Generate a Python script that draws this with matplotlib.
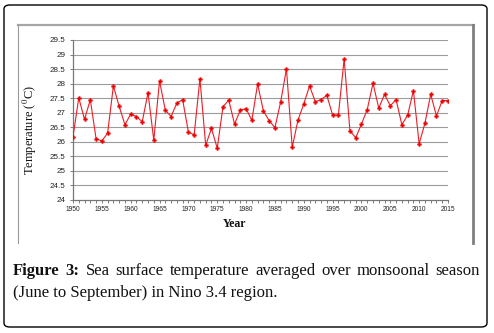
import matplotlib
matplotlib.use("Agg")
import matplotlib.pyplot as plt
from matplotlib.patches import FancyBboxPatch
from matplotlib.lines import Line2D
import numpy as np

years = list(range(1950, 2016))
sst = [26.18, 27.51, 26.77, 27.45, 26.11, 26.03, 26.30, 27.92, 27.22, 26.59,
       26.95, 26.87, 26.69, 27.69, 26.06, 28.09, 27.09, 26.87, 27.33, 27.45,
       26.34, 26.24, 28.17, 25.88, 26.46, 25.78, 27.21, 27.43, 26.61, 27.09,
       27.14, 26.74, 27.99, 27.06, 26.73, 26.49, 27.38, 28.51, 25.81, 26.75,
       27.30, 27.92, 27.38, 27.45, 27.60, 26.92, 26.92, 28.85, 26.38, 26.14,
       26.61, 27.11, 28.01, 27.16, 27.63, 27.24, 27.45, 26.59, 26.91, 27.76,
       25.93, 26.64, 27.63, 26.89, 27.42, 27.42]
yticks = [24, 24.5, 25, 25.5, 26, 26.5, 27, 27.5, 28, 28.5, 29, 29.5]
xticks = list(range(1950, 2016, 5))

plt.rcParams['mathtext.fontset'] = 'stix'

W, H = 494, 333
fig = plt.figure(figsize=(W / 100, H / 100), dpi=100)

def fx(x):
    return x / W

def fy(y):
    return 1 - y / H

# outer rounded frame
frame = FancyBboxPatch((fx(4), fy(327)), fx(487) - fx(4), fy(5) - fy(327),
                       boxstyle="round,pad=0,rounding_size=0.012",
                       transform=fig.transFigure, fill=False,
                       edgecolor='black', linewidth=1.0)
fig.add_artist(frame)

# inner chart-area border
fig.add_artist(Line2D([fx(18), fx(474)], [fy(25), fy(25)], transform=fig.transFigure,
                      color='#a6a6a6', lw=1.6))
fig.add_artist(Line2D([fx(18), fx(18)], [fy(25), fy(243)], transform=fig.transFigure,
                      color='#9a9a9a', lw=0.8))
fig.add_artist(Line2D([fx(473), fx(473)], [fy(25), fy(243)], transform=fig.transFigure,
                      color='#7f7f7f', lw=2.0))

ax = fig.add_axes([fx(73), fy(200), fx(448) - fx(73), fy(40) - fy(200)])
ax.plot(years, sst, color='#ee1c25', lw=0.8, marker='P', markersize=3.0,
        markerfacecolor='#ee0000', markeredgecolor='#ee0000', markeredgewidth=0.2,
        zorder=3)
ax.set_xlim(1950, 2015)
ax.set_ylim(24, 29.5)
ax.set_yticks(yticks)
ax.set_yticklabels([f"{v:g}" for v in yticks], fontsize=5.8, family='Liberation Sans',
                   color='#222222')
ax.set_xticks(xticks)
ax.set_xticklabels([str(v) for v in xticks], fontsize=4.8, family='Liberation Sans',
                   color='#222222')
ax.set_xticks(years, minor=True)
ax.tick_params(axis='x', which='both', direction='out', length=2.5, width=0.6,
               color='#666666', pad=2)
ax.tick_params(axis='y', which='major', direction='out', length=2.5, width=0.6,
               color='#666666', pad=3)
for v in yticks[1:]:
    ax.axhline(v, color='#9c9c9c', lw=0.8, zorder=1)
for s in ['top', 'right']:
    ax.spines[s].set_visible(False)
ax.spines['left'].set_color('#777777')
ax.spines['bottom'].set_color('#777777')
ax.spines['left'].set_linewidth(0.9)
ax.spines['bottom'].set_linewidth(0.9)

fig.text(fx(30), fy(130), r'Temperature ($^{0}$C)', rotation=90, ha='center', va='center',
         fontsize=9, family='Liberation Serif', color='#111111')
fig.text(fx(235), fy(224), 'Year', ha='center', va='center', fontsize=8.5,
         family='Liberation Serif', fontweight='bold', color='#111111')

# caption
fig.canvas.draw()
renderer = fig.canvas.get_renderer()
cap_fs = 12
x_left, x_right = 13, 480

def text_width(s, weight='normal'):
    t = fig.text(0, 0, s, fontsize=cap_fs, family='Liberation Serif', fontweight=weight)
    bb = t.get_window_extent(renderer)
    t.remove()
    return bb.width

line1 = [("Figure", 'bold'), ("3:", 'bold'), ("Sea", 'normal'), ("surface", 'normal'),
         ("temperature", 'normal'), ("averaged", 'normal'), ("over", 'normal'),
         ("monsoonal", 'normal'), ("season", 'normal')]
widths = [text_width(w, wt) for w, wt in line1]
gap = (x_right - x_left - sum(widths)) / (len(line1) - 1)
x = x_left
for (w, wt), wd in zip(line1, widths):
    fig.text(fx(x), fy(275), w, fontsize=cap_fs, family='Liberation Serif', fontweight=wt,
             ha='left', va='baseline', color='#111111')
    x += wd + gap

fig.text(fx(x_left), fy(297), "(June to September) in Nino 3.4 region.", fontsize=cap_fs,
         family='Liberation Serif', ha='left', va='baseline', color='#111111')

fig.savefig('out.png', dpi=100)
